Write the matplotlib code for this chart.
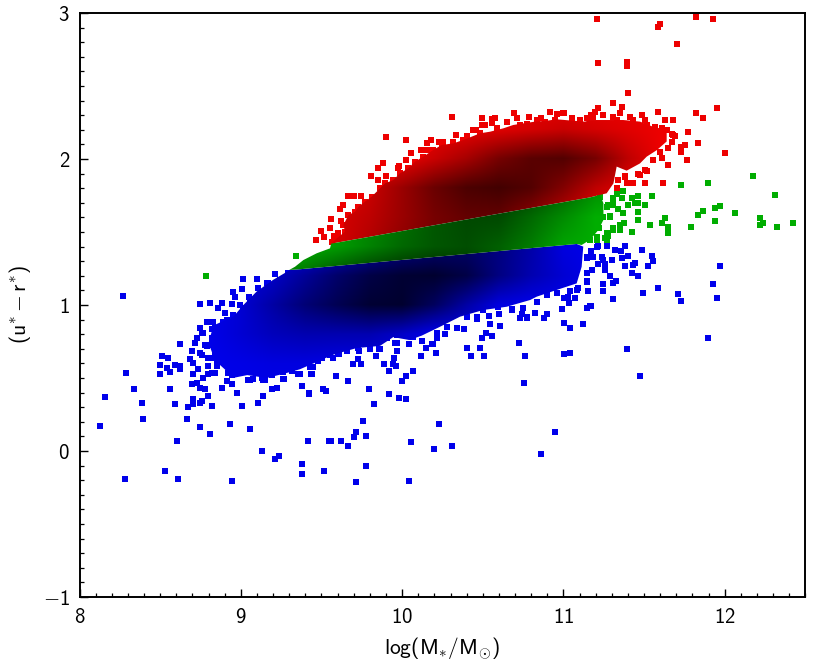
import numpy as np
import matplotlib
matplotlib.use('Agg')
import matplotlib.pyplot as plt
from matplotlib.patches import Polygon
from matplotlib.ticker import MultipleLocator

plt.rcParams['mathtext.fontset'] = 'custom'
plt.rcParams['mathtext.rm'] = 'cmss10'
plt.rcParams['mathtext.it'] = 'cmss10'
plt.rcParams['mathtext.sf'] = 'cmss10'
plt.rcParams['mathtext.bf'] = 'cmss10'
plt.rcParams['mathtext.fallback'] = 'cm'

# Individually readable points (log mass, colour)
blue_pts = [
(8.27,1.06),(8.62,0.73),(8.51,0.65),(8.55,0.64),(8.50,0.59),(8.59,0.59),(8.62,0.58),(8.54,0.57),(8.62,0.56),(8.56,0.54),
(8.50,0.525),(8.29,0.537),(8.34,0.423),(8.56,0.423),(8.16,0.368),(8.385,0.331),(8.59,0.32),(8.395,0.217),(8.665,0.217),(8.127,0.172),
(8.747,0.162),(8.933,0.183),(9.057,0.149),(8.809,0.114),(8.602,0.069),(9.129,0.0),(9.212,-0.055),(9.239,-0.032),(9.377,-0.089),(9.377,-0.157),
(9.517,-0.134),(9.418,0.069),(9.548,0.069),(8.53,-0.137),(8.282,-0.191),(8.612,-0.191),(8.943,-0.205),(8.674,0.299),(8.705,0.356),(8.705,0.322),
(8.747,0.331),(8.757,0.345),(8.798,0.377),(8.819,0.308),(9.005,0.308),(9.108,0.331),(9.139,0.377),(8.974,0.40),(8.881,0.434),(8.695,0.457),
(8.726,0.468),(8.747,0.429),(8.778,0.423),(8.943,0.457),(8.912,0.482),(9.191,0.423),(9.222,0.434),(9.377,0.445),(9.424,0.391),(9.511,0.423),
(9.528,0.411),(9.046,0.487),(9.073,0.491),(9.150,0.487),(9.270,0.491),(9.439,0.525),(9.356,0.525),(9.315,0.548),(9.48,0.619),
(8.747,1.005),(8.809,1.016),(8.881,1.016),(8.943,1.005),(8.861,0.982),(8.90,0.948),(8.798,0.882),(8.829,0.886),(8.891,0.886),(8.747,0.845),
(8.757,0.806),(8.819,0.834),(8.726,0.772),(8.716,0.742),(8.695,0.685),(8.747,0.669),(8.685,0.628),(8.705,0.605),(8.819,0.635),(8.798,0.582),
(8.85,0.582),(8.737,0.56),(8.705,0.525),(8.767,0.503),(8.798,0.525),(8.84,0.532),(8.788,0.72),(8.819,0.772),
(9.559,0.068),(9.621,0.068),(9.665,0.034),(9.704,0.093),(9.714,0.128),(9.776,0.105),(9.755,0.205),(9.776,-0.103),(9.714,-0.215),(10.045,-0.206),
(10.055,0.059),(10.198,0.013),(10.229,0.182),(10.311,0.036),(10.95,0.128),(10.859,-0.021),(10.755,0.466),(9.828,0.319),(9.921,0.388),(9.983,0.365),
(10.024,0.354),(9.797,0.422),(10.001,0.479),(10.024,0.513),(10.065,0.548),(9.921,0.548),(9.962,0.582),(9.941,0.593),(9.89,0.593),(9.745,0.593),
(9.693,0.593),(9.724,0.628),(9.838,0.65),(9.952,0.639),(9.97,0.685),(10.117,0.65),(10.21,0.673),(10.148,0.707),(10.187,0.73),(10.045,0.73),
(9.956,0.742),(9.859,0.696),(10.425,0.65),(10.508,0.65),(10.404,0.707),(10.485,0.707),(10.724,0.742),(10.764,0.65),(11.003,0.662),(11.043,0.673),
(10.497,0.776),(10.559,0.787),(10.518,0.81),(10.609,0.856),(10.547,0.867),(10.384,0.833),(11.003,0.879),(11.043,0.844),(11.123,0.867),(9.59,0.513),
(9.665,0.479),(9.507,0.422),(9.528,0.411),(9.435,0.525),(9.425,0.395),(10.991,0.970),(11.034,1.016),(11.144,0.977),(11.167,0.993),(10.879,0.913),
(10.898,0.936),(10.826,0.947),(10.774,0.913),(10.733,0.913),(10.743,0.936),(10.60,0.936),(10.683,0.97),(10.538,0.924),(10.466,0.902),
(11.971,1.265),(11.929,1.142),(11.95,1.051),(11.731,1.025),(11.712,1.073),(11.589,1.119),(11.496,1.085),(11.898,0.777),(11.475,0.516),(11.392,0.697),
(11.31,1.039),(11.248,1.094),(11.248,1.142),(11.155,1.094),(11.31,1.153),(11.324,1.165),(11.291,1.197),(11.465,1.197),(11.423,1.222),(11.527,1.265),
(11.382,1.265),(11.434,1.277),(11.444,1.290),(11.558,1.299),(11.547,1.334),(11.485,1.379),(11.382,1.402),(11.268,1.402),(11.217,1.402),(11.403,1.334),
(11.361,1.322),(11.299,1.311),(11.258,1.240),(11.144,1.162),(11.093,1.119),(11.041,1.094),(11.004,1.051),(11.072,1.051),(11.035,1.016),(11.144,0.982),
(11.169,0.993),(10.991,0.971),(11.004,0.879),(11.043,0.845),(11.124,0.868),(11.043,0.674),(11.004,0.662),
(11.169,1.37),(11.32,1.377),(11.357,1.37),(11.186,1.327),(11.237,1.327),(11.144,1.325),(11.175,1.24),(11.144,1.222),(11.217,1.279),(11.258,1.279),
(9.212,1.21),(9.098,1.176),(9.011,1.176),(9.16,1.153),(9.005,1.108),(8.95,1.092),(8.964,1.057),(9.053,1.057),(8.995,1.0),(9.036,0.966),
(9.088,1.023),(9.243,1.172),(9.295,1.217),(8.788,0.886),(8.809,0.726),(8.757,0.658),(8.85,0.612),(8.819,0.532),(8.943,0.521),(9.057,0.487),
(9.14,0.487),(9.264,0.491),(9.315,0.55),(9.367,0.528),(9.439,0.528),(9.45,0.573),(9.501,0.635),(9.574,0.635),(9.611,0.665),(9.656,0.687),
(9.735,0.687),(9.801,0.697),(9.863,0.697),(9.966,0.738),(9.904,0.772),(10.045,0.733),(10.121,0.756),(10.193,0.733),(10.214,0.772),(10.266,0.802),
(10.338,0.84),(11.144,1.331),(11.206,1.4),(11.247,1.308),(11.175,1.24),
(10.318,0.943),(10.4,0.92),(10.462,0.92),(10.504,0.966),(10.597,0.988),(10.679,0.966),(10.752,0.977),(10.772,0.92),(10.834,1.023),(10.896,1.068),
(10.958,1.08),(11.03,1.057),(11.082,1.103),(11.144,1.16),(11.144,1.217),
(8.768,0.806),(8.84,0.84),(8.871,0.829),(8.778,0.726),(8.84,0.669),(8.799,0.635),(8.85,0.589),(8.923,0.532),(9.016,0.555),(9.067,0.544),
(9.129,0.498),(9.191,0.521),(9.264,0.544),(9.367,0.589),(9.429,0.578),(9.48,0.635),(9.553,0.658),(9.604,0.665),(9.656,0.715),(9.728,0.703),
(9.801,0.726),(9.894,0.783),(9.966,0.795),(10.069,0.783),(10.214,0.806),(10.276,0.852),(8.912,0.898),(8.954,0.932),(9.016,0.977),(9.057,1.035),
(9.109,1.114),(9.171,1.149),
]
green_pts = [
(8.784,1.199),(9.342,1.336),(12.173,1.882),(12.312,1.754),(11.898,1.834),(11.731,1.822),(11.547,1.745),(11.506,1.685),(11.465,1.745),(11.423,1.731),
(11.444,1.697),(11.465,1.697),(11.403,1.685),(11.372,1.781),(11.361,1.731),(11.31,1.731),(11.33,1.761),(11.279,1.685),(11.31,1.685),(11.341,1.656),
(11.372,1.628),(11.465,1.64),(11.465,1.583),(11.289,1.608),(11.378,1.564),(11.351,1.548),(11.31,1.514),(11.351,1.514),(11.423,1.503),(11.537,1.548),
(11.609,1.564),(11.63,1.594),(11.65,1.537),(11.65,1.496),(11.793,1.537),(11.94,1.573),(11.836,1.617),(11.867,1.642),(11.94,1.662),(11.971,1.676),
(12.062,1.628),(12.219,1.594),(12.239,1.564),(12.219,1.548),(12.322,1.537),(12.421,1.564),(11.268,1.491),(11.268,1.446),(11.206,1.446),(11.165,1.446),
(11.223,1.525),(11.279,1.473),(11.268,1.673),(11.31,1.719),(11.227,1.742),(11.247,1.605),(11.289,1.605),(11.185,1.536),(11.206,1.468),(11.258,1.457),
(11.351,1.536),(11.31,1.525),
]
red_pts = [
(11.206,2.959),(11.588,2.902),(11.599,2.927),(11.824,2.973),(11.929,2.959),(11.702,2.790),(11.217,2.656),(11.392,2.667),(11.392,2.64),(11.403,2.450),
(11.31,2.382),(11.361,2.359),(11.217,2.348),(11.95,2.348),(11.588,2.325),(11.824,2.313),(11.867,2.279),(11.681,2.27),(11.774,2.188),(11.836,2.108),
(12.002,2.039),(11.754,2.096),(11.731,2.08),(11.731,2.051),(11.609,2.005),(11.764,1.994),(11.65,1.959),(11.62,1.834),(11.506,1.834),(11.434,1.834),
(11.392,1.834),(11.516,1.918),(11.465,1.895),(11.382,1.884),(11.341,1.857),(11.671,2.119),(11.692,2.158),(11.671,2.172),(11.65,2.073),(11.63,2.268),
(11.0,2.313),(11.051,2.279),(11.196,2.325),(11.169,2.302),(11.248,2.302),(11.351,2.313),(11.485,2.302),(11.506,2.268),(11.413,2.29),
(9.466,1.447),(9.495,1.507),(9.518,1.463),(9.553,1.53),(9.559,1.587),(9.60,1.495),(9.58,1.473),(9.621,1.573),(9.631,1.687),(9.662,1.744),
(9.704,1.744),(9.745,1.744),(9.615,1.655),(9.807,1.881),(9.848,1.936),(9.879,1.970),(9.848,1.858),(9.9,1.881),(9.9,2.151),(10.024,2.132),
(9.972,1.936),(9.983,1.952),(10.024,1.993),(10.055,2.039),(10.115,2.062),(10.156,2.062),(10.156,2.107),(10.179,2.132),(10.23,2.119),(10.311,2.29),
(10.332,2.167),(10.404,2.155),(10.456,2.199),(10.497,2.278),(10.497,2.235),(10.557,2.272),(10.578,2.278),(10.59,2.21),(10.652,2.256),(10.693,2.313),
(10.714,2.278),(10.784,2.29),(10.919,2.324),(10.958,2.308),(11.003,2.313),(11.051,2.278),(10.859,2.278),
(9.563,1.434),(9.594,1.456),(9.646,1.502),(9.636,1.548),(9.667,1.616),(9.708,1.639),(9.729,1.673),(9.77,1.708),(9.811,1.742),(9.863,1.799),
(9.894,1.833),(9.945,1.856),(9.987,1.902),(10.038,1.936),(10.08,1.982),(10.131,2.016),(10.193,2.062),(10.245,2.096),(10.317,2.107),(10.379,2.13),
(10.514,2.233),(10.555,2.244),(10.648,2.256),(10.731,2.233),(10.772,2.24),(10.834,2.267),(10.886,2.256),(10.948,2.267),(11.103,2.267),(11.185,2.29),
(11.33,2.267),(11.433,2.267),(11.516,2.233),(11.568,2.221),(11.609,2.21),(11.64,2.2),(11.681,2.164),(11.599,2.05),(11.557,1.993),(11.506,1.925),
(11.475,1.89),(11.413,1.833),(11.382,1.879),(11.34,1.856),(11.33,1.799),(10.442,2.199),(10.483,2.176),(10.334,2.164),(10.4,2.153),(10.318,2.119),
(10.256,2.119),(11.144,2.278),(11.247,2.301),(11.309,2.29),(11.485,2.301),
]

# Outlines of the solid, overplotted clouds
red_outline = [(9.56,1.42),(11.165,1.737),(11.227,1.754),(11.268,1.765),(11.31,1.833),(11.33,1.948),(11.392,1.92),(11.475,1.97),(11.516,2.016),
(11.578,2.06),(11.64,2.12),(11.64,2.2),(11.557,2.22),(11.475,2.256),(11.371,2.267),(11.165,2.267),(11.133,2.256),(11.061,2.262),(10.958,2.272),
(10.896,2.262),(10.824,2.256),(10.751,2.244),(10.689,2.233),(10.627,2.21),(10.545,2.187),(10.483,2.176),(10.431,2.153),(10.379,2.13),(10.317,2.107),
(10.245,2.096),(10.193,2.062),(10.131,2.016),(10.08,1.982),(10.038,1.936),(9.987,1.902),(9.945,1.856),(9.894,1.833),(9.863,1.799),(9.811,1.742),
(9.77,1.708),(9.729,1.673),(9.708,1.639),(9.667,1.616),(9.636,1.548),(9.646,1.502),(9.594,1.456)]
green_outline = [(9.30,1.24),(9.336,1.262),(9.388,1.308),(9.47,1.354),(9.553,1.388),(9.56,1.42),(11.165,1.737),(11.227,1.754),(11.248,1.697),
(11.248,1.583),(11.217,1.514),(11.165,1.446),(11.113,1.411),(11.082,1.418),(9.357,1.244)]
blue_outline = [(9.305,1.24),(9.357,1.244),(11.082,1.418),(11.123,1.4),(11.113,1.262),(11.082,1.148),(10.958,1.103),(10.834,1.057),(10.793,1.034),(10.648,0.988),
(10.504,0.966),(10.359,0.92),(10.235,0.851),(10.121,0.79),(10.045,0.76),(9.945,0.78),(9.863,0.72),(9.718,0.705),(9.574,0.66),(9.45,0.6),
(9.367,0.56),(9.27,0.53),(9.16,0.5),(9.04,0.52),(8.95,0.5),(8.9,0.56),(8.84,0.62),(8.80,0.74),(8.83,0.86),(8.954,0.92),(9.016,1.0),(9.098,1.092),(9.2,1.172)]

# Brightness of the overplotted clouds on a coarse grid (1 = base colour, 0 = black)
shade_x = [8.6,8.8,9.0,9.2,9.4,9.6,9.8,10.0,10.2,10.4,10.6,10.8,11.0,11.2,11.4,11.6,11.8]
shade_y = [0.4,0.6,0.8,1.0,1.2,1.4,1.6,1.8,2.0,2.2,2.4]
shade = [
[1,1,1,1,1,1,1,1,1,1,1,1,1,1,1,1,1],
[1,1,.98,.95,.95,.98,1,1,1,1,1,1,1,1,1,1,1],
[1,1,.9,.8,.75,.75,.75,.85,1,1,1,1,1,1,1,1,1],
[1,1,.9,.7,.5,.35,.22,.2,.4,.7,.95,1,1,1,1,1,1],
[1,1,.95,.85,.65,.45,.3,.22,.2,.3,.55,.75,.9,1,1,1,1],
[1,1,1,1,1,.9,.75,.6,.5,.45,.55,.72,.95,1,1,1,1],
[1,1,1,1,1,.9,.8,.65,.5,.42,.42,.6,.8,1,1,1,1],
[1,1,1,1,1,1,.85,.65,.45,.32,.28,.35,.55,.8,.95,1,1],
[1,1,1,1,1,1,1,1,.85,.7,.5,.38,.35,.5,.8,1,1],
[1,1,1,1,1,1,1,1,1,.98,.95,.9,.85,.9,.95,1,1],
[1,1,1,1,1,1,1,1,1,1,1,1,1,1,1,1,1],
]

x_label = r'$\mathrm{log(M_{\ast}/M_{\odot})}$'
y_label = r'$\mathrm{(u^{\ast}-r^{\ast})}$'
x_ticks = [8, 9, 10, 11, 12]
y_ticks = [-1, 0, 1, 2, 3]

RED, GREEN, BLUE = (0.93, 0, 0), (0, 0.68, 0), (0, 0, 0.92)

fig = plt.figure(figsize=(8.30, 6.64), dpi=100)
ax = fig.add_axes([79.5/830, 67/664, 725.9/830, 584/664])
ax.set_xlim(8, 12.5)
ax.set_ylim(-1, 3)

sh = np.array(shade, dtype=float)[:, :, None]
dx = (shade_x[1]-shade_x[0])/2
dy = (shade_y[1]-shade_y[0])/2
extent = (shade_x[0]-dx, shade_x[-1]+dx, shade_y[0]-dy, shade_y[-1]+dy)
for outline, base, pts in ((red_outline, RED, red_pts), (blue_outline, BLUE, blue_pts), (green_outline, GREEN, green_pts)):
    rgb = sh * np.array(base)
    xs, ys = zip(*pts)
    ax.scatter(xs, ys, marker='s', s=13, color=base, linewidths=0, zorder=1.5)
    im = ax.imshow(rgb, origin='lower', extent=extent, aspect='auto', interpolation='bilinear', zorder=2)
    im.set_clip_path(Polygon(outline, closed=True, transform=ax.transData))

ax.set_xlim(8, 12.5)
ax.set_ylim(-1, 3)
for s in ax.spines.values():
    s.set_linewidth(1.4)
ax.set_xticks(x_ticks)
ax.set_yticks(y_ticks)
ax.set_xticklabels([r'$\mathrm{%d}$' % v for v in x_ticks])
ax.set_yticklabels([r'$\mathrm{%d}$' % v for v in y_ticks])
ax.xaxis.set_minor_locator(MultipleLocator(0.1))
ax.yaxis.set_minor_locator(MultipleLocator(0.1))
ax.tick_params(which='major', direction='in', length=6, width=1.0, labelsize=15, pad=7)
ax.tick_params(which='minor', direction='in', length=3, width=0.9)
ax.set_xlabel(x_label, fontsize=15.5, labelpad=6)
ax.set_ylabel(y_label, fontsize=15.5, labelpad=7)
fig.savefig('out.png', dpi=100)
